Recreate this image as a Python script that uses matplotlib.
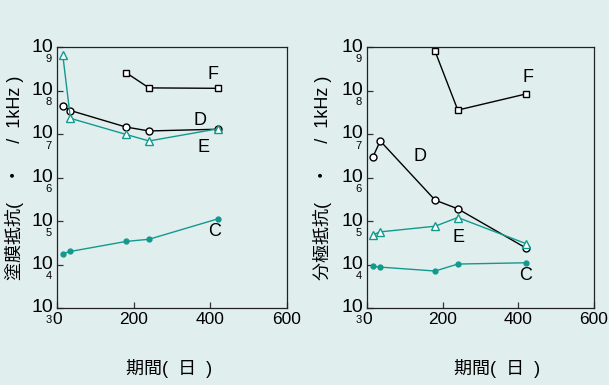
import numpy as np
import matplotlib.pyplot as plt

plt.rcParams['font.family'] = ['Liberation Sans', 'Noto Sans CJK JP', 'DejaVu Sans']

# 期間 (days)
days = [15, 35, 180, 240, 420]
days_f = [180, 240, 420]

# left panel: 塗膜抵抗 (log10 values)
coat_C = [4.25, 4.30, 4.53, 4.58, 5.05]
coat_D = [7.64, 7.54, 7.16, 7.07, 7.11]
coat_E = [8.82, 7.36, 6.99, 6.84, 7.12]
coat_F = [8.41, 8.06, 8.05]

# right panel: 分極抵抗 (log10 values)
pol_C = [3.96, 3.94, 3.85, 4.01, 4.04]
pol_D = [6.46, 6.84, 5.48, 5.28, 4.38]
pol_E = [4.68, 4.75, 4.88, 5.08, 4.48]
pol_F = [8.90, 7.55, 7.92]

exponents = [3, 4, 5, 6, 7, 8, 9]
xticks = [0, 200, 400, 600]

bg = '#e1eeee'
teal = '#12998e'

fig = plt.figure(figsize=(6.09, 3.85), dpi=100, facecolor=bg)
ax1 = fig.add_axes([57/609, 1 - 308/385, 230/609, 261/385])
ax2 = fig.add_axes([367/609, 1 - 308/385, 227/609, 261/385])


def pw(v):
    return [10 ** a for a in v]


def setup(ax, ylabel, ylab_x, xlab_x):
    ax.set_facecolor(bg)
    ax.set_yscale('log')
    ax.set_xlim(0, 600)
    ax.set_ylim(1e3, 1e9)
    ax.set_xticks(xticks)
    ax.set_xticklabels([str(t) for t in xticks], fontsize=12.5)
    ax.set_yticks([10 ** e for e in exponents])
    ax.set_yticklabels([])
    ax.yaxis.set_minor_locator(plt.NullLocator())
    ax.tick_params(direction='in', length=4, width=0.9, color='#333333')
    ax.tick_params(axis='x', pad=3)
    for s in ax.spines.values():
        s.set_linewidth(0.9)
        s.set_color('#222222')
    # "10" with the exponent tucked under it, as in the original
    for e in exponents:
        ax.annotate('10', xy=(0, 10 ** e), xycoords=ax.get_yaxis_transform(),
                    xytext=(-3, 0), textcoords='offset points',
                    ha='right', va='center', fontsize=14)
        ax.annotate(str(e), xy=(0, 10 ** e), xycoords=ax.get_yaxis_transform(),
                    xytext=(-4, -8.5), textcoords='offset points',
                    ha='right', va='center', fontsize=8)
    ax.set_xlabel('期間(  日  )', fontsize=13, va='center')
    ax.xaxis.set_label_coords(xlab_x, -60 / 261)
    ax.set_ylabel(ylabel, fontsize=13, va='center')
    ax.yaxis.set_label_coords(ylab_x, 0.5)


def draw(ax, c, d, e, f):
    ax.plot(days, pw(c), '-o', color=teal, lw=1, ms=3.5, mfc=teal, mec=teal)
    ax.plot(days, pw(d), '-o', color='black', lw=1, ms=5, mfc='white', mec='black', mew=1)
    ax.plot(days, pw(e), '-^', color=teal, lw=1, ms=5.5, mfc='white', mec=teal, mew=1)
    ax.plot(days_f, pw(f), '-s', color='black', lw=1, ms=4.5, mfc='white', mec='black', mew=1)


setup(ax1, '塗膜抵抗(　・　 /  1kHz )', (15 - 57) / 230, (169 - 57) / 230)
draw(ax1, coat_C, coat_D, coat_E, coat_F)
ax1.text(406, 10 ** 8.36, 'F', fontsize=13, ha='center', va='center')
ax1.text(374, 10 ** 7.32, 'D', fontsize=13, ha='center', va='center')
ax1.text(381, 10 ** 6.70, 'E', fontsize=13, ha='center', va='center')
ax1.text(412, 10 ** 4.77, 'C', fontsize=13, ha='center', va='center')

setup(ax2, '分極抵抗(　・　 /  1kHz )', (323 - 367) / 227, (497 - 367) / 227)
draw(ax2, pol_C, pol_D, pol_E, pol_F)
ax2.text(425, 10 ** 8.29, 'F', fontsize=13, ha='center', va='center')
ax2.text(140, 10 ** 6.48, 'D', fontsize=13, ha='center', va='center')
ax2.text(241, 10 ** 4.61, 'E', fontsize=13, ha='center', va='center')
ax2.text(420, 10 ** 3.74, 'C', fontsize=13, ha='center', va='center')

fig.savefig('out.png', dpi=100, facecolor=bg)
